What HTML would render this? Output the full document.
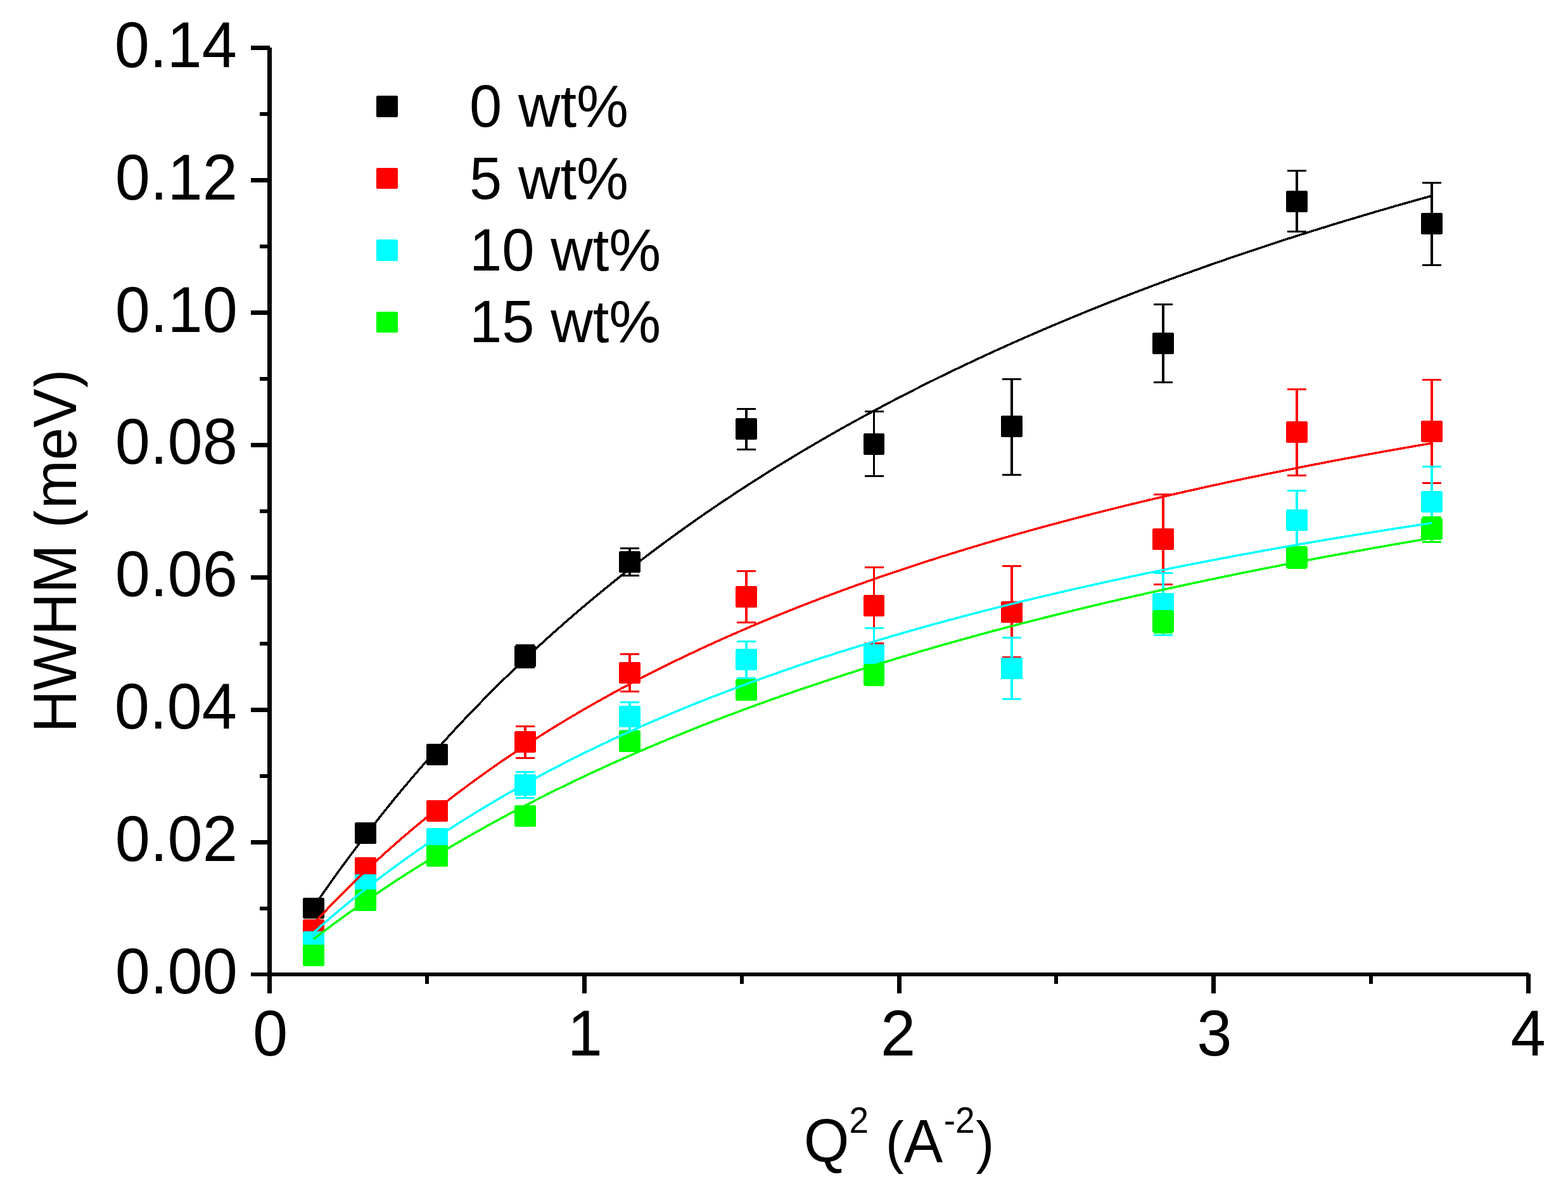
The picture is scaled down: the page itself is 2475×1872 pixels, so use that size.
<!DOCTYPE html>
<html lang="en">
<head>
<meta charset="utf-8">
<title>HWHM vs Q2</title>
<style>
html,body{margin:0;padding:0;background:#fff;}
body{width:2475px;height:1872px;overflow:hidden;}
svg{display:block;}
text{font-family:"Liberation Sans",sans-serif;fill:#000;}
.tick{font-size:99.3px;}
.lab{font-size:92.2px;}
.sup{font-size:55px;}
.par{font-size:87.3px;}
</style>
</head>
<body>
<svg width="2475" height="1872" viewBox="0 0 2475 1872">
<rect x="0" y="0" width="2475" height="1872" fill="#ffffff"/>
<g shape-rendering="crispEdges">
<g>
<path d="M479 1417h32v1h1v31h-1v1h-32v-1h-1v-31h1z" fill="#000000"/>
<path d="M561 1298h32v1h1v32h-1v1h-32v-1h-1v-32h1z" fill="#000000"/>
<path d="M674 1174h32v1h1v32h-1v1h-32v-1h-1v-32h1z" fill="#000000"/>
<rect x="827" y="1017" width="4" height="38" fill="#000000"/>
<rect x="814" y="1017" width="30" height="3" fill="#000000"/>
<rect x="814" y="1052" width="30" height="3" fill="#000000"/>
<path d="M813 1019h32v1h1v32h-1v1h-32v-1h-1v-32h1z" fill="#000000"/>
<rect x="992" y="864" width="4" height="46" fill="#000000"/>
<rect x="979" y="864" width="30" height="3" fill="#000000"/>
<rect x="979" y="907" width="30" height="3" fill="#000000"/>
<path d="M978 870h32v1h1v32h-1v1h-32v-1h-1v-32h1z" fill="#000000"/>
<rect x="1176" y="644" width="4" height="67" fill="#000000"/>
<rect x="1163" y="644" width="30" height="3" fill="#000000"/>
<rect x="1163" y="708" width="30" height="3" fill="#000000"/>
<path d="M1162 660h32v1h1v32h-1v1h-32v-1h-1v-32h1z" fill="#000000"/>
<rect x="1378" y="648" width="3" height="105" fill="#000000"/>
<rect x="1365" y="648" width="30" height="3" fill="#000000"/>
<rect x="1365" y="750" width="30" height="3" fill="#000000"/>
<path d="M1364 684h31v1h1v32h-1v1h-31v-1h-1v-32h1z" fill="#000000"/>
<rect x="1595" y="597" width="4" height="154" fill="#000000"/>
<rect x="1582" y="597" width="30" height="3" fill="#000000"/>
<rect x="1582" y="748" width="30" height="3" fill="#000000"/>
<path d="M1581 656h32v1h1v32h-1v1h-32v-1h-1v-32h1z" fill="#000000"/>
<rect x="1834" y="479" width="4" height="126" fill="#000000"/>
<rect x="1821" y="479" width="30" height="3" fill="#000000"/>
<rect x="1821" y="602" width="30" height="3" fill="#000000"/>
<path d="M1820 525h32v1h1v32h-1v1h-32v-1h-1v-32h1z" fill="#000000"/>
<rect x="2045" y="268" width="4" height="99" fill="#000000"/>
<rect x="2032" y="268" width="30" height="3" fill="#000000"/>
<rect x="2032" y="364" width="30" height="3" fill="#000000"/>
<path d="M2031 301h32v1h1v32h-1v1h-32v-1h-1v-32h1z" fill="#000000"/>
<rect x="2258" y="287" width="4" height="133" fill="#000000"/>
<rect x="2245" y="287" width="30" height="3" fill="#000000"/>
<rect x="2245" y="417" width="30" height="3" fill="#000000"/>
<path d="M2244 336h32v1h1v32h-1v1h-32v-1h-1v-32h1z" fill="#000000"/>
</g>
<g>
<path d="M479 1451h32v1h1v32h-1v1h-32v-1h-1v-32h1z" fill="#ff0000"/>
<path d="M561 1353h32v1h1v32h-1v1h-32v-1h-1v-32h1z" fill="#ff0000"/>
<path d="M674 1263h32v1h1v32h-1v1h-32v-1h-1v-32h1z" fill="#ff0000"/>
<rect x="827" y="1145" width="4" height="53" fill="#ff0000"/>
<rect x="814" y="1145" width="30" height="3" fill="#ff0000"/>
<rect x="814" y="1195" width="30" height="3" fill="#ff0000"/>
<path d="M813 1154h32v1h1v32h-1v1h-32v-1h-1v-32h1z" fill="#ff0000"/>
<rect x="992" y="1031" width="4" height="62" fill="#ff0000"/>
<rect x="979" y="1031" width="30" height="3" fill="#ff0000"/>
<rect x="979" y="1090" width="30" height="3" fill="#ff0000"/>
<path d="M978 1045h32v1h1v32h-1v1h-32v-1h-1v-32h1z" fill="#ff0000"/>
<rect x="1176" y="900" width="4" height="84" fill="#ff0000"/>
<rect x="1163" y="900" width="30" height="3" fill="#ff0000"/>
<rect x="1163" y="981" width="30" height="3" fill="#ff0000"/>
<path d="M1162 925h32v1h1v32h-1v1h-32v-1h-1v-32h1z" fill="#ff0000"/>
<rect x="1378" y="894" width="3" height="123" fill="#ff0000"/>
<rect x="1365" y="894" width="30" height="3" fill="#ff0000"/>
<rect x="1365" y="1014" width="30" height="3" fill="#ff0000"/>
<path d="M1364 939h31v1h1v32h-1v1h-31v-1h-1v-32h1z" fill="#ff0000"/>
<rect x="1595" y="892" width="4" height="147" fill="#ff0000"/>
<rect x="1582" y="892" width="30" height="3" fill="#ff0000"/>
<rect x="1582" y="1036" width="30" height="3" fill="#ff0000"/>
<path d="M1581 949h32v1h1v32h-1v1h-32v-1h-1v-32h1z" fill="#ff0000"/>
<rect x="1834" y="779" width="4" height="145" fill="#ff0000"/>
<rect x="1821" y="779" width="30" height="3" fill="#ff0000"/>
<rect x="1821" y="921" width="30" height="3" fill="#ff0000"/>
<path d="M1820 834h32v1h1v32h-1v1h-32v-1h-1v-32h1z" fill="#ff0000"/>
<rect x="2045" y="613" width="4" height="139" fill="#ff0000"/>
<rect x="2032" y="613" width="30" height="3" fill="#ff0000"/>
<rect x="2032" y="749" width="30" height="3" fill="#ff0000"/>
<path d="M2031 665h32v1h1v32h-1v1h-32v-1h-1v-32h1z" fill="#ff0000"/>
<rect x="2258" y="598" width="4" height="166" fill="#ff0000"/>
<rect x="2245" y="598" width="30" height="3" fill="#ff0000"/>
<rect x="2245" y="761" width="30" height="3" fill="#ff0000"/>
<path d="M2244 664h32v1h1v32h-1v1h-32v-1h-1v-32h1z" fill="#ff0000"/>
</g>
<g>
<path d="M479 1470h32v1h1v32h-1v1h-32v-1h-1v-32h1z" fill="#00ffff"/>
<path d="M561 1380h32v1h1v32h-1v1h-32v-1h-1v-32h1z" fill="#00ffff"/>
<path d="M674 1307h32v1h1v32h-1v1h-32v-1h-1v-32h1z" fill="#00ffff"/>
<rect x="827" y="1217" width="4" height="44" fill="#00ffff"/>
<rect x="814" y="1217" width="30" height="3" fill="#00ffff"/>
<rect x="814" y="1258" width="30" height="3" fill="#00ffff"/>
<path d="M813 1222h32v1h1v32h-1v1h-32v-1h-1v-32h1z" fill="#00ffff"/>
<rect x="992" y="1107" width="4" height="48" fill="#00ffff"/>
<rect x="979" y="1107" width="30" height="3" fill="#00ffff"/>
<rect x="979" y="1152" width="30" height="3" fill="#00ffff"/>
<path d="M978 1114h32v1h1v32h-1v1h-32v-1h-1v-32h1z" fill="#00ffff"/>
<rect x="1176" y="1011" width="4" height="61" fill="#00ffff"/>
<rect x="1163" y="1011" width="30" height="3" fill="#00ffff"/>
<rect x="1163" y="1069" width="30" height="3" fill="#00ffff"/>
<path d="M1162 1024h32v1h1v32h-1v1h-32v-1h-1v-32h1z" fill="#00ffff"/>
<rect x="1378" y="990" width="3" height="86" fill="#00ffff"/>
<rect x="1365" y="990" width="30" height="3" fill="#00ffff"/>
<rect x="1365" y="1073" width="30" height="3" fill="#00ffff"/>
<path d="M1364 1017h31v1h1v32h-1v1h-31v-1h-1v-32h1z" fill="#00ffff"/>
<rect x="1595" y="1005" width="4" height="100" fill="#00ffff"/>
<rect x="1582" y="1005" width="30" height="3" fill="#00ffff"/>
<rect x="1582" y="1102" width="30" height="3" fill="#00ffff"/>
<path d="M1581 1038h32v1h1v32h-1v1h-32v-1h-1v-32h1z" fill="#00ffff"/>
<rect x="1834" y="903" width="4" height="101" fill="#00ffff"/>
<rect x="1821" y="903" width="30" height="3" fill="#00ffff"/>
<rect x="1821" y="1001" width="30" height="3" fill="#00ffff"/>
<path d="M1820 936h32v1h1v32h-1v1h-32v-1h-1v-32h1z" fill="#00ffff"/>
<rect x="2045" y="773" width="4" height="96" fill="#00ffff"/>
<rect x="2032" y="773" width="30" height="3" fill="#00ffff"/>
<rect x="2032" y="866" width="30" height="3" fill="#00ffff"/>
<path d="M2031 804h32v1h1v32h-1v1h-32v-1h-1v-32h1z" fill="#00ffff"/>
<rect x="2258" y="735" width="4" height="114" fill="#00ffff"/>
<rect x="2245" y="735" width="30" height="3" fill="#00ffff"/>
<rect x="2245" y="846" width="30" height="3" fill="#00ffff"/>
<path d="M2244 775h32v1h1v32h-1v1h-32v-1h-1v-32h1z" fill="#00ffff"/>
</g>
<g>
<path d="M479 1491h32v1h1v32h-1v1h-32v-1h-1v-32h1z" fill="#00ff00"/>
<path d="M561 1404h32v1h1v32h-1v1h-32v-1h-1v-32h1z" fill="#00ff00"/>
<path d="M674 1334h32v1h1v32h-1v1h-32v-1h-1v-32h1z" fill="#00ff00"/>
<path d="M813 1271h32v1h1v32h-1v1h-32v-1h-1v-32h1z" fill="#00ff00"/>
<path d="M978 1153h32v1h1v32h-1v1h-32v-1h-1v-32h1z" fill="#00ff00"/>
<path d="M1162 1072h32v1h1v32h-1v1h-32v-1h-1v-32h1z" fill="#00ff00"/>
<rect x="1378" y="1048" width="3" height="35" fill="#00ff00"/>
<rect x="1365" y="1048" width="30" height="3" fill="#00ff00"/>
<rect x="1365" y="1080" width="30" height="3" fill="#00ff00"/>
<path d="M1364 1048h31v1h1v32h-1v1h-31v-1h-1v-32h1z" fill="#00ff00"/>
<rect x="1834" y="963" width="4" height="37" fill="#00ff00"/>
<rect x="1821" y="963" width="30" height="3" fill="#00ff00"/>
<rect x="1821" y="997" width="30" height="3" fill="#00ff00"/>
<path d="M1820 964h32v1h1v32h-1v1h-32v-1h-1v-32h1z" fill="#00ff00"/>
<rect x="2045" y="862" width="4" height="36" fill="#00ff00"/>
<rect x="2032" y="862" width="30" height="3" fill="#00ff00"/>
<rect x="2032" y="895" width="30" height="3" fill="#00ff00"/>
<path d="M2031 863h32v1h1v32h-1v1h-32v-1h-1v-32h1z" fill="#00ff00"/>
<rect x="2258" y="815" width="4" height="42" fill="#00ff00"/>
<rect x="2245" y="815" width="30" height="3" fill="#00ff00"/>
<rect x="2245" y="854" width="30" height="3" fill="#00ff00"/>
<path d="M2244 818h32v1h1v32h-1v1h-32v-1h-1v-32h1z" fill="#00ff00"/>
</g>
</g>
<g fill="none" stroke-width="3.5" stroke-linejoin="round" shape-rendering="crispEdges">
<polyline stroke="#000000" points="495.0,1431.4 502.4,1420.7 509.8,1410.1 517.2,1399.6 524.5,1389.2 531.9,1378.9 539.3,1368.7 546.7,1358.7 554.1,1348.7 561.5,1338.9 568.8,1329.1 576.2,1319.4 583.6,1309.9 591.0,1300.4 598.4,1291.1 605.8,1281.8 613.2,1272.6 620.5,1263.5 627.9,1254.5 635.3,1245.6 642.7,1236.8 650.1,1228.1 657.5,1219.4 664.9,1210.9 672.2,1202.4 679.6,1194.0 687.0,1185.6 694.4,1177.4 701.8,1169.2 709.2,1161.1 716.5,1153.1 723.9,1145.2 731.3,1137.3 738.7,1129.5 746.1,1121.8 753.5,1114.1 760.9,1106.6 768.2,1099.0 775.6,1091.6 783.0,1084.2 790.4,1076.9 797.8,1069.7 805.2,1062.5 812.6,1055.3 819.9,1048.3 827.3,1041.3 834.7,1034.3 842.1,1027.5 849.5,1020.6 856.9,1013.9 864.2,1007.2 871.6,1000.5 879.0,994.0 886.4,987.4 893.8,980.9 901.2,974.5 908.6,968.1 915.9,961.8 923.3,955.6 930.7,949.3 938.1,943.2 945.5,937.1 952.9,931.0 960.3,925.0 967.6,919.0 975.0,913.1 982.4,907.2 989.8,901.4 997.2,895.6 1004.6,889.9 1011.9,884.2 1019.3,878.6 1026.7,873.0 1034.1,867.4 1041.5,861.9 1048.9,856.4 1056.3,851.0 1063.6,845.6 1071.0,840.3 1078.4,835.0 1085.8,829.7 1093.2,824.5 1100.6,819.3 1107.9,814.1 1115.3,809.0 1122.7,804.0 1130.1,798.9 1137.5,793.9 1144.9,789.0 1152.3,784.1 1159.6,779.2 1167.0,774.3 1174.4,769.5 1181.8,764.7 1189.2,760.0 1196.6,755.3 1204.0,750.6 1211.3,745.9 1218.7,741.3 1226.1,736.7 1233.5,732.2 1240.9,727.7 1248.3,723.2 1255.6,718.7 1263.0,714.3 1270.4,709.9 1277.8,705.6 1285.2,701.2 1292.6,696.9 1300.0,692.6 1307.3,688.4 1314.7,684.2 1322.1,680.0 1329.5,675.8 1336.9,671.7 1344.3,667.6 1351.7,663.5 1359.0,659.5 1366.4,655.5 1373.8,651.5 1381.2,647.5 1388.6,643.6 1396.0,639.6 1403.3,635.7 1410.7,631.9 1418.1,628.0 1425.5,624.2 1432.9,620.4 1440.3,616.7 1447.7,612.9 1455.0,609.2 1462.4,605.5 1469.8,601.8 1477.2,598.2 1484.6,594.5 1492.0,590.9 1499.4,587.4 1506.7,583.8 1514.1,580.3 1521.5,576.7 1528.9,573.3 1536.3,569.8 1543.7,566.3 1551.0,562.9 1558.4,559.5 1565.8,556.1 1573.2,552.7 1580.6,549.4 1588.0,546.1 1595.4,542.7 1602.7,539.5 1610.1,536.2 1617.5,532.9 1624.9,529.7 1632.3,526.5 1639.7,523.3 1647.1,520.1 1654.4,517.0 1661.8,513.8 1669.2,510.7 1676.6,507.6 1684.0,504.6 1691.4,501.5 1698.7,498.4 1706.1,495.4 1713.5,492.4 1720.9,489.4 1728.3,486.4 1735.7,483.5 1743.1,480.5 1750.4,477.6 1757.8,474.7 1765.2,471.8 1772.6,468.9 1780.0,466.1 1787.4,463.2 1794.7,460.4 1802.1,457.6 1809.5,454.8 1816.9,452.0 1824.3,449.2 1831.7,446.5 1839.1,443.7 1846.4,441.0 1853.8,438.3 1861.2,435.6 1868.6,432.9 1876.0,430.3 1883.4,427.6 1890.8,425.0 1898.1,422.4 1905.5,419.7 1912.9,417.2 1920.3,414.6 1927.7,412.0 1935.1,409.5 1942.4,406.9 1949.8,404.4 1957.2,401.9 1964.6,399.4 1972.0,396.9 1979.4,394.4 1986.8,392.0 1994.1,389.5 2001.5,387.1 2008.9,384.6 2016.3,382.2 2023.7,379.8 2031.1,377.4 2038.5,375.1 2045.8,372.7 2053.2,370.4 2060.6,368.0 2068.0,365.7 2075.4,363.4 2082.8,361.1 2090.1,358.8 2097.5,356.5 2104.9,354.2 2112.3,352.0 2119.7,349.7 2127.1,347.5 2134.5,345.3 2141.8,343.1 2149.2,340.9 2156.6,338.7 2164.0,336.5 2171.4,334.3 2178.8,332.1 2186.2,330.0 2193.5,327.9 2200.9,325.7 2208.3,323.6 2215.7,321.5 2223.1,319.4 2230.5,317.3 2237.8,315.2 2245.2,313.2 2252.6,311.1 2260.0,309.1"/>
<polyline stroke="#ff0000" points="495.0,1457.9 502.4,1449.9 509.8,1442.0 517.2,1434.3 524.5,1426.6 531.9,1419.1 539.3,1411.6 546.7,1404.2 554.1,1396.9 561.5,1389.7 568.8,1382.6 576.2,1375.6 583.6,1368.6 591.0,1361.7 598.4,1355.0 605.8,1348.2 613.2,1341.6 620.5,1335.1 627.9,1328.6 635.3,1322.2 642.7,1315.8 650.1,1309.6 657.5,1303.4 664.9,1297.3 672.2,1291.2 679.6,1285.2 687.0,1279.3 694.4,1273.4 701.8,1267.6 709.2,1261.9 716.5,1256.2 723.9,1250.6 731.3,1245.1 738.7,1239.6 746.1,1234.1 753.5,1228.8 760.9,1223.4 768.2,1218.2 775.6,1213.0 783.0,1207.8 790.4,1202.7 797.8,1197.6 805.2,1192.6 812.6,1187.7 819.9,1182.8 827.3,1177.9 834.7,1173.1 842.1,1168.3 849.5,1163.6 856.9,1158.9 864.2,1154.3 871.6,1149.7 879.0,1145.2 886.4,1140.7 893.8,1136.2 901.2,1131.8 908.6,1127.5 915.9,1123.1 923.3,1118.8 930.7,1114.6 938.1,1110.4 945.5,1106.2 952.9,1102.1 960.3,1098.0 967.6,1093.9 975.0,1089.9 982.4,1085.9 989.8,1082.0 997.2,1078.1 1004.6,1074.2 1011.9,1070.3 1019.3,1066.5 1026.7,1062.7 1034.1,1059.0 1041.5,1055.3 1048.9,1051.6 1056.3,1048.0 1063.6,1044.3 1071.0,1040.8 1078.4,1037.2 1085.8,1033.7 1093.2,1030.2 1100.6,1026.7 1107.9,1023.3 1115.3,1019.9 1122.7,1016.5 1130.1,1013.1 1137.5,1009.8 1144.9,1006.5 1152.3,1003.2 1159.6,1000.0 1167.0,996.8 1174.4,993.6 1181.8,990.4 1189.2,987.2 1196.6,984.1 1204.0,981.0 1211.3,978.0 1218.7,974.9 1226.1,971.9 1233.5,968.9 1240.9,965.9 1248.3,963.0 1255.6,960.0 1263.0,957.1 1270.4,954.3 1277.8,951.4 1285.2,948.6 1292.6,945.7 1300.0,942.9 1307.3,940.2 1314.7,937.4 1322.1,934.7 1329.5,931.9 1336.9,929.3 1344.3,926.6 1351.7,923.9 1359.0,921.3 1366.4,918.7 1373.8,916.1 1381.2,913.5 1388.6,910.9 1396.0,908.4 1403.3,905.9 1410.7,903.4 1418.1,900.9 1425.5,898.4 1432.9,895.9 1440.3,893.5 1447.7,891.1 1455.0,888.7 1462.4,886.3 1469.8,883.9 1477.2,881.6 1484.6,879.2 1492.0,876.9 1499.4,874.6 1506.7,872.3 1514.1,870.0 1521.5,867.8 1528.9,865.5 1536.3,863.3 1543.7,861.1 1551.0,858.9 1558.4,856.7 1565.8,854.5 1573.2,852.4 1580.6,850.2 1588.0,848.1 1595.4,846.0 1602.7,843.9 1610.1,841.8 1617.5,839.8 1624.9,837.7 1632.3,835.6 1639.7,833.6 1647.1,831.6 1654.4,829.6 1661.8,827.6 1669.2,825.6 1676.6,823.6 1684.0,821.7 1691.4,819.7 1698.7,817.8 1706.1,815.9 1713.5,814.0 1720.9,812.1 1728.3,810.2 1735.7,808.3 1743.1,806.5 1750.4,804.6 1757.8,802.8 1765.2,801.0 1772.6,799.1 1780.0,797.3 1787.4,795.5 1794.7,793.8 1802.1,792.0 1809.5,790.2 1816.9,788.5 1824.3,786.7 1831.7,785.0 1839.1,783.3 1846.4,781.6 1853.8,779.9 1861.2,778.2 1868.6,776.5 1876.0,774.8 1883.4,773.2 1890.8,771.5 1898.1,769.9 1905.5,768.2 1912.9,766.6 1920.3,765.0 1927.7,763.4 1935.1,761.8 1942.4,760.2 1949.8,758.6 1957.2,757.0 1964.6,755.5 1972.0,753.9 1979.4,752.4 1986.8,750.9 1994.1,749.3 2001.5,747.8 2008.9,746.3 2016.3,744.8 2023.7,743.3 2031.1,741.8 2038.5,740.4 2045.8,738.9 2053.2,737.4 2060.6,736.0 2068.0,734.5 2075.4,733.1 2082.8,731.7 2090.1,730.2 2097.5,728.8 2104.9,727.4 2112.3,726.0 2119.7,724.6 2127.1,723.2 2134.5,721.9 2141.8,720.5 2149.2,719.1 2156.6,717.8 2164.0,716.4 2171.4,715.1 2178.8,713.8 2186.2,712.4 2193.5,711.1 2200.9,709.8 2208.3,708.5 2215.7,707.2 2223.1,705.9 2230.5,704.6 2237.8,703.3 2245.2,702.1 2252.6,700.8 2260.0,699.5"/>
<polyline stroke="#00ffff" points="495.0,1472.0 502.4,1465.4 509.8,1458.9 517.2,1452.5 524.5,1446.2 531.9,1439.9 539.3,1433.7 546.7,1427.6 554.1,1421.5 561.5,1415.6 568.8,1409.6 576.2,1403.8 583.6,1398.0 591.0,1392.3 598.4,1386.7 605.8,1381.1 613.2,1375.5 620.5,1370.1 627.9,1364.7 635.3,1359.3 642.7,1354.0 650.1,1348.8 657.5,1343.6 664.9,1338.5 672.2,1333.4 679.6,1328.4 687.0,1323.4 694.4,1318.5 701.8,1313.7 709.2,1308.8 716.5,1304.1 723.9,1299.4 731.3,1294.7 738.7,1290.1 746.1,1285.5 753.5,1281.0 760.9,1276.5 768.2,1272.1 775.6,1267.7 783.0,1263.3 790.4,1259.0 797.8,1254.7 805.2,1250.5 812.6,1246.3 819.9,1242.2 827.3,1238.1 834.7,1234.0 842.1,1230.0 849.5,1226.0 856.9,1222.0 864.2,1218.1 871.6,1214.2 879.0,1210.4 886.4,1206.6 893.8,1202.8 901.2,1199.1 908.6,1195.3 915.9,1191.7 923.3,1188.0 930.7,1184.4 938.1,1180.8 945.5,1177.3 952.9,1173.8 960.3,1170.3 967.6,1166.8 975.0,1163.4 982.4,1160.0 989.8,1156.7 997.2,1153.3 1004.6,1150.0 1011.9,1146.7 1019.3,1143.5 1026.7,1140.3 1034.1,1137.1 1041.5,1133.9 1048.9,1130.8 1056.3,1127.6 1063.6,1124.6 1071.0,1121.5 1078.4,1118.4 1085.8,1115.4 1093.2,1112.4 1100.6,1109.5 1107.9,1106.5 1115.3,1103.6 1122.7,1100.7 1130.1,1097.8 1137.5,1095.0 1144.9,1092.2 1152.3,1089.3 1159.6,1086.6 1167.0,1083.8 1174.4,1081.1 1181.8,1078.3 1189.2,1075.6 1196.6,1073.0 1204.0,1070.3 1211.3,1067.7 1218.7,1065.0 1226.1,1062.5 1233.5,1059.9 1240.9,1057.3 1248.3,1054.8 1255.6,1052.3 1263.0,1049.8 1270.4,1047.3 1277.8,1044.8 1285.2,1042.4 1292.6,1039.9 1300.0,1037.5 1307.3,1035.1 1314.7,1032.7 1322.1,1030.4 1329.5,1028.0 1336.9,1025.7 1344.3,1023.4 1351.7,1021.1 1359.0,1018.8 1366.4,1016.6 1373.8,1014.3 1381.2,1012.1 1388.6,1009.9 1396.0,1007.7 1403.3,1005.5 1410.7,1003.3 1418.1,1001.2 1425.5,999.0 1432.9,996.9 1440.3,994.8 1447.7,992.7 1455.0,990.6 1462.4,988.6 1469.8,986.5 1477.2,984.5 1484.6,982.5 1492.0,980.4 1499.4,978.5 1506.7,976.5 1514.1,974.5 1521.5,972.5 1528.9,970.6 1536.3,968.7 1543.7,966.7 1551.0,964.8 1558.4,962.9 1565.8,961.0 1573.2,959.2 1580.6,957.3 1588.0,955.5 1595.4,953.6 1602.7,951.8 1610.1,950.0 1617.5,948.2 1624.9,946.4 1632.3,944.6 1639.7,942.9 1647.1,941.1 1654.4,939.4 1661.8,937.6 1669.2,935.9 1676.6,934.2 1684.0,932.5 1691.4,930.8 1698.7,929.1 1706.1,927.4 1713.5,925.8 1720.9,924.1 1728.3,922.5 1735.7,920.8 1743.1,919.2 1750.4,917.6 1757.8,916.0 1765.2,914.4 1772.6,912.8 1780.0,911.2 1787.4,909.7 1794.7,908.1 1802.1,906.6 1809.5,905.0 1816.9,903.5 1824.3,902.0 1831.7,900.5 1839.1,899.0 1846.4,897.5 1853.8,896.0 1861.2,894.5 1868.6,893.0 1876.0,891.6 1883.4,890.1 1890.8,888.7 1898.1,887.2 1905.5,885.8 1912.9,884.4 1920.3,883.0 1927.7,881.6 1935.1,880.2 1942.4,878.8 1949.8,877.4 1957.2,876.0 1964.6,874.7 1972.0,873.3 1979.4,872.0 1986.8,870.6 1994.1,869.3 2001.5,868.0 2008.9,866.6 2016.3,865.3 2023.7,864.0 2031.1,862.7 2038.5,861.4 2045.8,860.1 2053.2,858.8 2060.6,857.6 2068.0,856.3 2075.4,855.0 2082.8,853.8 2090.1,852.5 2097.5,851.3 2104.9,850.1 2112.3,848.8 2119.7,847.6 2127.1,846.4 2134.5,845.2 2141.8,844.0 2149.2,842.8 2156.6,841.6 2164.0,840.4 2171.4,839.2 2178.8,838.1 2186.2,836.9 2193.5,835.7 2200.9,834.6 2208.3,833.4 2215.7,832.3 2223.1,831.2 2230.5,830.0 2237.8,828.9 2245.2,827.8 2252.6,826.7 2260.0,825.6"/>
<polyline stroke="#00ff00" points="495.0,1482.2 502.4,1476.6 509.8,1471.0 517.2,1465.5 524.5,1460.0 531.9,1454.6 539.3,1449.2 546.7,1443.9 554.1,1438.6 561.5,1433.4 568.8,1428.2 576.2,1423.0 583.6,1417.9 591.0,1412.9 598.4,1407.9 605.8,1403.0 613.2,1398.0 620.5,1393.2 627.9,1388.3 635.3,1383.6 642.7,1378.8 650.1,1374.1 657.5,1369.5 664.9,1364.8 672.2,1360.3 679.6,1355.7 687.0,1351.2 694.4,1346.8 701.8,1342.3 709.2,1337.9 716.5,1333.6 723.9,1329.3 731.3,1325.0 738.7,1320.7 746.1,1316.5 753.5,1312.4 760.9,1308.2 768.2,1304.1 775.6,1300.0 783.0,1296.0 790.4,1292.0 797.8,1288.0 805.2,1284.0 812.6,1280.1 819.9,1276.2 827.3,1272.4 834.7,1268.6 842.1,1264.8 849.5,1261.0 856.9,1257.3 864.2,1253.6 871.6,1249.9 879.0,1246.2 886.4,1242.6 893.8,1239.0 901.2,1235.4 908.6,1231.9 915.9,1228.4 923.3,1224.9 930.7,1221.4 938.1,1218.0 945.5,1214.6 952.9,1211.2 960.3,1207.8 967.6,1204.5 975.0,1201.2 982.4,1197.9 989.8,1194.6 997.2,1191.4 1004.6,1188.1 1011.9,1185.0 1019.3,1181.8 1026.7,1178.6 1034.1,1175.5 1041.5,1172.4 1048.9,1169.3 1056.3,1166.2 1063.6,1163.2 1071.0,1160.2 1078.4,1157.2 1085.8,1154.2 1093.2,1151.2 1100.6,1148.3 1107.9,1145.4 1115.3,1142.5 1122.7,1139.6 1130.1,1136.7 1137.5,1133.9 1144.9,1131.1 1152.3,1128.3 1159.6,1125.5 1167.0,1122.7 1174.4,1120.0 1181.8,1117.3 1189.2,1114.5 1196.6,1111.9 1204.0,1109.2 1211.3,1106.5 1218.7,1103.9 1226.1,1101.3 1233.5,1098.6 1240.9,1096.1 1248.3,1093.5 1255.6,1090.9 1263.0,1088.4 1270.4,1085.9 1277.8,1083.3 1285.2,1080.9 1292.6,1078.4 1300.0,1075.9 1307.3,1073.5 1314.7,1071.0 1322.1,1068.6 1329.5,1066.2 1336.9,1063.8 1344.3,1061.5 1351.7,1059.1 1359.0,1056.8 1366.4,1054.4 1373.8,1052.1 1381.2,1049.8 1388.6,1047.5 1396.0,1045.3 1403.3,1043.0 1410.7,1040.8 1418.1,1038.5 1425.5,1036.3 1432.9,1034.1 1440.3,1031.9 1447.7,1029.7 1455.0,1027.6 1462.4,1025.4 1469.8,1023.3 1477.2,1021.1 1484.6,1019.0 1492.0,1016.9 1499.4,1014.8 1506.7,1012.7 1514.1,1010.7 1521.5,1008.6 1528.9,1006.6 1536.3,1004.5 1543.7,1002.5 1551.0,1000.5 1558.4,998.5 1565.8,996.5 1573.2,994.6 1580.6,992.6 1588.0,990.6 1595.4,988.7 1602.7,986.8 1610.1,984.8 1617.5,982.9 1624.9,981.0 1632.3,979.1 1639.7,977.3 1647.1,975.4 1654.4,973.5 1661.8,971.7 1669.2,969.8 1676.6,968.0 1684.0,966.2 1691.4,964.4 1698.7,962.6 1706.1,960.8 1713.5,959.0 1720.9,957.2 1728.3,955.5 1735.7,953.7 1743.1,952.0 1750.4,950.2 1757.8,948.5 1765.2,946.8 1772.6,945.1 1780.0,943.4 1787.4,941.7 1794.7,940.0 1802.1,938.4 1809.5,936.7 1816.9,935.0 1824.3,933.4 1831.7,931.8 1839.1,930.1 1846.4,928.5 1853.8,926.9 1861.2,925.3 1868.6,923.7 1876.0,922.1 1883.4,920.5 1890.8,919.0 1898.1,917.4 1905.5,915.8 1912.9,914.3 1920.3,912.7 1927.7,911.2 1935.1,909.7 1942.4,908.2 1949.8,906.6 1957.2,905.1 1964.6,903.6 1972.0,902.2 1979.4,900.7 1986.8,899.2 1994.1,897.7 2001.5,896.3 2008.9,894.8 2016.3,893.4 2023.7,891.9 2031.1,890.5 2038.5,889.1 2045.8,887.7 2053.2,886.2 2060.6,884.8 2068.0,883.4 2075.4,882.0 2082.8,880.7 2090.1,879.3 2097.5,877.9 2104.9,876.5 2112.3,875.2 2119.7,873.8 2127.1,872.5 2134.5,871.1 2141.8,869.8 2149.2,868.5 2156.6,867.2 2164.0,865.8 2171.4,864.5 2178.8,863.2 2186.2,861.9 2193.5,860.6 2200.9,859.3 2208.3,858.1 2215.7,856.8 2223.1,855.5 2230.5,854.2 2237.8,853.0 2245.2,851.7 2252.6,850.5 2260.0,849.2"/>
</g>
<g shape-rendering="crispEdges">
<rect x="422" y="75" width="7" height="1493" fill="#000"/>
<rect x="396" y="1535" width="2017" height="6" fill="#000"/>
<rect x="410" y="1431" width="12" height="6" fill="#000"/>
<rect x="396" y="1326" width="26" height="7" fill="#000"/>
<rect x="410" y="1222" width="12" height="6" fill="#000"/>
<rect x="396" y="1117" width="26" height="7" fill="#000"/>
<rect x="410" y="1013" width="12" height="6" fill="#000"/>
<rect x="396" y="908" width="26" height="7" fill="#000"/>
<rect x="410" y="804" width="12" height="6" fill="#000"/>
<rect x="396" y="699" width="26" height="7" fill="#000"/>
<rect x="410" y="595" width="12" height="6" fill="#000"/>
<rect x="396" y="490" width="26" height="7" fill="#000"/>
<rect x="410" y="386" width="12" height="6" fill="#000"/>
<rect x="396" y="281" width="26" height="7" fill="#000"/>
<rect x="410" y="177" width="12" height="6" fill="#000"/>
<rect x="396" y="72" width="30" height="7" fill="#000"/>
<rect x="671" y="1541" width="6" height="12" fill="#000"/>
<rect x="919" y="1541" width="7" height="27" fill="#000"/>
<rect x="1168" y="1541" width="6" height="12" fill="#000"/>
<rect x="1416" y="1541" width="7" height="27" fill="#000"/>
<rect x="1664" y="1541" width="6" height="12" fill="#000"/>
<rect x="1912" y="1541" width="7" height="27" fill="#000"/>
<rect x="2161" y="1541" width="6" height="12" fill="#000"/>
<rect x="2409" y="1537" width="7" height="31" fill="#000"/>
</g>
<text class="tick" transform="translate(375,1568.2) scale(1,1.035)" text-anchor="end">0.00</text>
<text class="tick" transform="translate(375,1359.27) scale(1,1.035)" text-anchor="end">0.02</text>
<text class="tick" transform="translate(374,1150.34) scale(1,1.035)" text-anchor="end">0.04</text>
<text class="tick" transform="translate(375,941.41) scale(1,1.035)" text-anchor="end">0.06</text>
<text class="tick" transform="translate(375,732.48) scale(1,1.035)" text-anchor="end">0.08</text>
<text class="tick" transform="translate(375,523.55) scale(1,1.035)" text-anchor="end">0.10</text>
<text class="tick" transform="translate(375,314.62) scale(1,1.035)" text-anchor="end">0.12</text>
<text class="tick" transform="translate(374,105.69) scale(1,1.035)" text-anchor="end">0.14</text>
<text class="tick" transform="translate(426.5,1666.3) scale(1,1.035)" text-anchor="middle">0</text>
<text class="tick" transform="translate(923.25,1666.3) scale(1,1.035)" text-anchor="middle">1</text>
<text class="tick" transform="translate(1417.5,1666.3) scale(1,1.035)" text-anchor="middle">2</text>
<text class="tick" transform="translate(1916.75,1666.3) scale(1,1.035)" text-anchor="middle">3</text>
<text class="tick" transform="translate(2412,1666.3) scale(1,1.035)" text-anchor="middle">4</text>
<text class="lab" transform="translate(1268.8,1834) scale(1,1.045)">Q<tspan class="sup" dy="-44.1">2</tspan><tspan dy="44.1"> </tspan><tspan class="par" dx="1">(</tspan>A<tspan class="sup" dy="-44.1" dx="1.5">-2</tspan><tspan class="par" dy="44.1" dx="1.5">)</tspan></text>
<svg x="53" y="500" width="85.3" height="700" overflow="hidden"><text class="lab" transform="translate(66.8,656.3) rotate(-90) scale(1,1.045)">HWHM (meV)</text>
</svg>
<g shape-rendering="crispEdges">
<path d="M595 151h32v1h1v32h-1v1h-32v-1h-1v-32h1z" fill="#000000"/>
<path d="M595 265h32v1h1v31h-1v1h-32v-1h-1v-31h1z" fill="#ff0000"/>
<path d="M595 378h32v1h1v32h-1v1h-32v-1h-1v-32h1z" fill="#00ffff"/>
<path d="M595 492h32v1h1v31h-1v1h-32v-1h-1v-31h1z" fill="#00ff00"/>
</g>
<text class="lab" transform="translate(741,200) scale(1,1.035)">0 wt%</text>
<text class="lab" transform="translate(741,313.5) scale(1,1.035)">5 wt%</text>
<text class="lab" transform="translate(741,427) scale(1,1.035)">10 wt%</text>
<text class="lab" transform="translate(741,540) scale(1,1.035)">15 wt%</text>
</svg>
</body>
</html>
